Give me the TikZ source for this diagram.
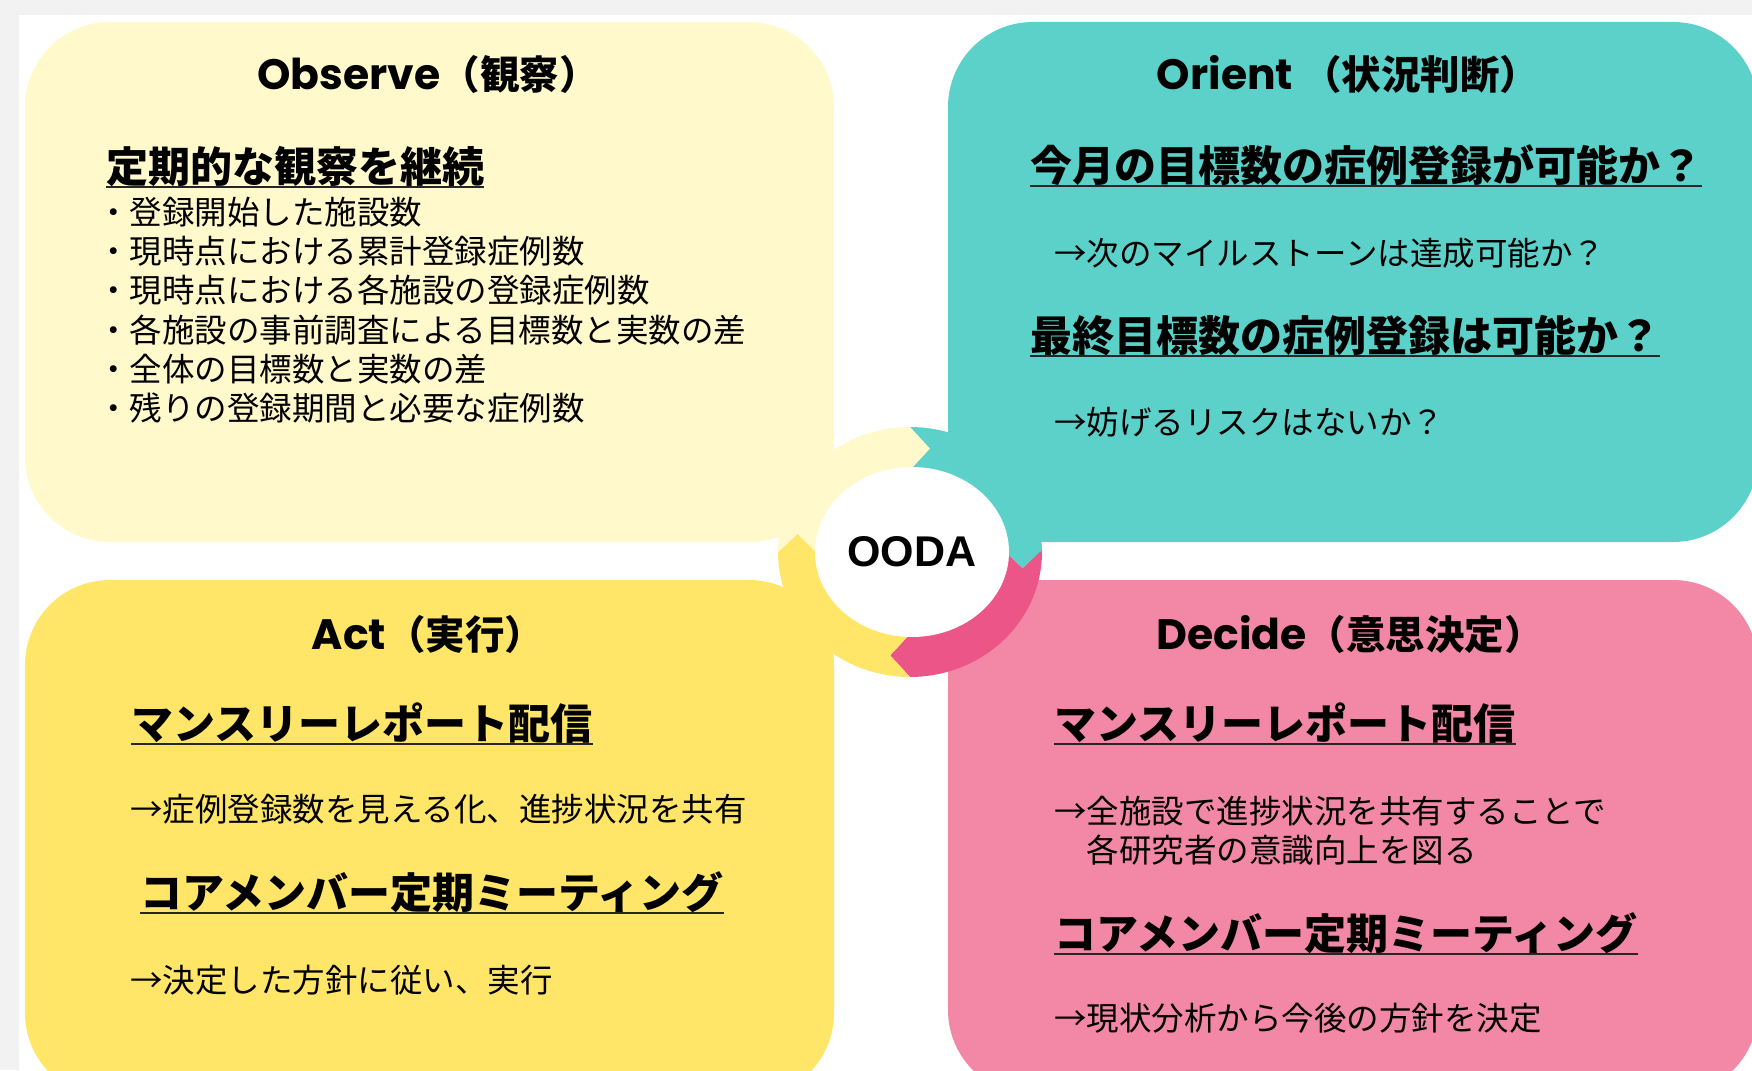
\documentclass[tikz,border=0pt]{standalone}
\usepackage{fontspec}
\setmainfont{Noto Sans CJK JP}
\newfontfamily\latfont{Poppins}
\newfontfamily\oodafont{Liberation Sans}
\usetikzlibrary{shapes.geometric}
\definecolor{obs}{HTML}{FFF9CC}
\definecolor{ori}{HTML}{5BD1C9}
\definecolor{act}{HTML}{FFE669}
\definecolor{dec}{HTML}{F287A6}
\definecolor{decarrow}{HTML}{EC5587}
\definecolor{grayband}{HTML}{F2F2F2}
\newcommand\ttltext[2]{{\latfont\bfseries\fontsize{42.5}{50}\selectfont #1}{\bfseries\fontsize{39.5}{47}\selectfont #2}}
\newcommand\ringseg[3]{%
\fill[#1] plot[domain=0:1,samples=41] ({910+132*cos((#2)+10+((#3)-(#2))*\x)},{552-125*sin((#2)+10+((#3)-(#2))*\x)})
 -- ({910+114*cos(#3)},{552-105*sin(#3)})
 -- plot[domain=0:1,samples=41] ({910+94*cos((#3)+10+((#2)-(#3))*\x)},{552-82*sin((#3)+10+((#2)-(#3))*\x)})
 -- ({910+114*cos(#2)},{552-105*sin(#2)}) -- cycle;}
\begin{document}
\begin{tikzpicture}[x=1pt,y=-1pt,
  panel/.style={rounded corners=85pt},
  body/.style={anchor=base west, inner sep=0pt, font=\fontsize{32.5}{39}\selectfont},
  head/.style={anchor=base west, inner sep=0pt, font=\bfseries\fontsize{42}{50}\selectfont},
  ttl/.style={anchor=base, inner sep=0pt},
  uline/.style={line width=1.8pt, black!85}]
\useasboundingbox (0,0) rectangle (1752,1070);
\clip (0,0) rectangle (1752,1070);
\fill[grayband] (0,0) rectangle (1752,1070);
\fill[white] (19,15) rectangle (1752,1070);
% panels
\fill[obs, panel] (25,22) rectangle (834,542);
\fill[ori, panel] (948,22) rectangle (1758,542);
\fill[act, panel] (25,580) rectangle (834,1098);
\fill[dec, panel] (948,580) rectangle (1758,1095);
% ring
\ringseg{ori}{80}{-9}
\ringseg{decarrow}{-9}{-100}
\ringseg{act}{260}{170}
\ringseg{obs}{170}{80}
\node[ellipse, fill=white, minimum width=194pt, minimum height=170pt, inner sep=0pt,
      font=\oodafont\bfseries\fontsize{43}{50}\selectfont] (ooda) at (912,552) {OODA};
% Observe
\node[ttl] (obst) at (428,90) {\ttltext{Observe}{（観察）}};
\node[head] (obh) at (106,182) {定期的な観察を継続};
\draw[uline] ([yshift=-5pt]obh.base west) -- ([yshift=-5pt]obh.base east);
\node[body] (ob1) at (97,224) {・登録開始した施設数};
\node[body] (ob2) at (97,263) {・現時点における累計登録症例数};
\node[body] (ob3) at (97,302.5) {・現時点における各施設の登録症例数};
\node[body] (ob4) at (97,342) {・各施設の事前調査による目標数と実数の差};
\node[body] (ob5) at (97,381) {・全体の目標数と実数の差};
\node[body] (ob6) at (97,420) {・残りの登録期間と必要な症例数};
% Orient
\node[ttl] (ort) at (1348,90) {\ttltext{Orient }{（状況判断）}};
\node[head] (orh1) at (1030,181) {今月の目標数の症例登録が可能か？};
\draw[uline] ([yshift=-5pt]orh1.base west) -- ([yshift=-5pt]orh1.base east);
\node[body] (or1) at (1054,265) {→次のマイルストーンは達成可能か？};
\node[head] (orh2) at (1030,351) {最終目標数の症例登録は可能か？};
\draw[uline] ([yshift=-5pt]orh2.base west) -- ([yshift=-5pt]orh2.base east);
\node[body] (or2) at (1054,434) {→妨げるリスクはないか？};
% Act
\node[ttl] (act) at (428,649) {\ttltext{Act}{（実行）}};
\node[head] (ach1) at (131,739) {マンスリーレポート配信};
\draw[uline] ([yshift=-5pt]ach1.base west) -- ([yshift=-5pt]ach1.base east);
\node[body] (ac1) at (130,821) {→症例登録数を見える化、進捗状況を共有};
\node[head] (ach2) at (140,908) {コアメンバー定期ミーティング};
\draw[uline] ([yshift=-5pt]ach2.base west) -- ([yshift=-5pt]ach2.base east);
\node[body] (ac2) at (130,992) {→決定した方針に従い、実行};
% Decide
\node[ttl] (dect) at (1350,649) {\ttltext{Decide}{（意思決定）}};
\node[head] (deh1) at (1054,739) {マンスリーレポート配信};
\draw[uline] ([yshift=-5pt]deh1.base west) -- ([yshift=-5pt]deh1.base east);
\node[body] (de1) at (1054,823) {→全施設で進捗状況を共有することで};
\node[body] (de2) at (1054,862) {　各研究者の意識向上を図る};
\node[head] (deh2) at (1054,949) {コアメンバー定期ミーティング};
\draw[uline] ([yshift=-5pt]deh2.base west) -- ([yshift=-5pt]deh2.base east);
\node[body] (de3) at (1054,1030) {→現状分析から今後の方針を決定};
\end{tikzpicture}
\end{document}
